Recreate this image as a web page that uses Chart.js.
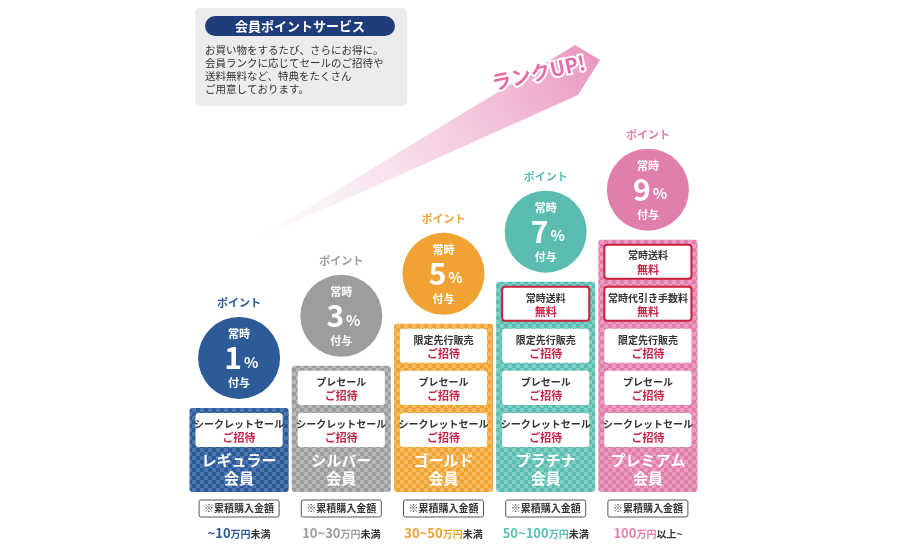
<!DOCTYPE html>
<html>
<head>
<meta charset="utf-8">
<script src="https://cdn.jsdelivr.net/npm/chart.js@4"></script>
<style>
  body { margin: 0; background: #fff; }
  #wrap { width: 900px; height: 550px; }
</style>
</head>
<body>
<div id="wrap"><canvas id="c" width="900" height="550"></canvas></div>
<script>
// data
var tiers = ['レギュラー会員', 'シルバー会員', 'ゴールド会員', 'プラチナ会員', 'プレミアム会員'];
var tierLines = [['レギュラー', '会員'], ['シルバー', '会員'], ['ゴールド', '会員'], ['プラチナ', '会員'], ['プレミアム', '会員']];
var levels = [2, 3, 4, 5, 6];
var pointRates = ['1', '3', '5', '7', '9'];
var benefits = [
    [['シークレットセール', 'ご招待']],
    [['プレセール', 'ご招待'], ['シークレットセール', 'ご招待']],
    [['限定先行販売', 'ご招待'], ['プレセール', 'ご招待'], ['シークレットセール', 'ご招待']],
    [['常時送料', '無料'], ['限定先行販売', 'ご招待'], ['プレセール', 'ご招待'], ['シークレットセール', 'ご招待']],
    [['常時送料', '無料'], ['常時代引き手数料', '無料'], ['限定先行販売', 'ご招待'], ['プレセール', 'ご招待'], ['シークレットセール', 'ご招待']]
];
var amounts = [['~10', '万円', '未満'], ['10~30', '万円', '未満'], ['30~50', '万円', '未満'], ['50~100', '万円', '未満'], ['100', '万円', '以上~']];
var colors = ['#2c5b98', '#9d9d9d', '#f0a233', '#5bbdb0', '#e07fab'];
var lightColors = ['#4c77b0', '#b8b8b8', '#f5bb62', '#80cfc4', '#eb9dc0'];

var F = '"Noto Sans CJK JP", sans-serif';

function makePattern(c1, c2) {
    var p = document.createElement('canvas');
    p.width = 8; p.height = 8;
    var g = p.getContext('2d');
    g.fillStyle = c1; g.fillRect(0, 0, 8, 8);
    g.fillStyle = c2;
    g.fillRect(0, 0, 4, 4); g.fillRect(4, 4, 4, 4);
    return document.getElementById('c').getContext('2d').createPattern(p, 'repeat');
}
var patterns = colors.map((c, i) => makePattern(c, lightColors[i]));

function rr(ctx, x, y, w, h, r) {
    ctx.beginPath();
    ctx.moveTo(x + r, y);
    ctx.arcTo(x + w, y, x + w, y + h, r);
    ctx.arcTo(x + w, y + h, x, y + h, r);
    ctx.arcTo(x, y + h, x, y, r);
    ctx.arcTo(x, y, x + w, y, r);
    ctx.closePath();
}

var deco = {
    id: 'deco',
    beforeDatasetsDraw(chart) {
        var ctx = chart.ctx;
        ctx.save();
        // arrow streak
        var g = ctx.createLinearGradient(255, 240, 600, 60);
        g.addColorStop(0, 'rgba(240,190,215,0)');
        g.addColorStop(1, 'rgba(232,140,185,0.9)');
        ctx.fillStyle = g;
        ctx.beginPath();
        ctx.moveTo(255, 240);
        ctx.lineTo(575, 45);
        ctx.lineTo(600, 60);
        ctx.lineTo(578, 95);
        ctx.closePath();
        ctx.fill();
        ctx.translate(540, 80);
        ctx.rotate(-0.22);
        ctx.font = 'bold 20px ' + F;
        ctx.textAlign = 'center';
        ctx.strokeStyle = '#fff'; ctx.lineWidth = 4;
        ctx.strokeText('ランクUP!', 0, 0);
        ctx.fillStyle = '#e86aa6';
        ctx.fillText('ランクUP!', 0, 0);
        ctx.restore();

        // info box
        ctx.save();
        ctx.fillStyle = '#ececec';
        rr(ctx, 195, 8, 212, 98, 5); ctx.fill();
        ctx.fillStyle = '#1f3d7a';
        rr(ctx, 205, 16, 190, 20, 10); ctx.fill();
        ctx.fillStyle = '#fff';
        ctx.font = 'bold 13px ' + F;
        ctx.textAlign = 'center'; ctx.textBaseline = 'middle';
        ctx.fillText('会員ポイントサービス', 300, 26);
        ctx.fillStyle = '#333';
        ctx.font = '10.5px ' + F;
        ctx.textAlign = 'left';
        ['お買い物をするたび、さらにお得に。', '会員ランクに応じてセールのご招待や', '送料無料など、特典をたくさん', 'ご用意しております。'].forEach((t, i) => {
            ctx.fillText(t, 205, 50 + i * 13);
        });
        ctx.restore();
    },
    afterDatasetsDraw(chart) {
        var ctx = chart.ctx;
        var meta = chart.getDatasetMeta(0);
        var yS = chart.scales.y;
        var unit = yS.getPixelForValue(0) - yS.getPixelForValue(1);
        ctx.save();
        ctx.textAlign = 'center'; ctx.textBaseline = 'middle';
        meta.data.forEach((bar, i) => {
            var x = bar.x, w = bar.width, top = bar.y, bottom = bar.base;
            // tier label
            ctx.fillStyle = '#fff';
            ctx.font = 'bold 15px ' + F;
            ctx.fillText(tierLines[i][0], x, bottom - 32);
            ctx.fillText(tierLines[i][1], x, bottom - 14);
            // benefit boxes
            benefits[i].forEach((b, j) => {
                var by = top + j * unit + 5;
                ctx.fillStyle = '#fff';
                rr(ctx, x - w / 2 + 6, by, w - 12, unit - 8, 3); ctx.fill();
                if (b[1] == '無料') {
                    ctx.strokeStyle = '#c8203f'; ctx.lineWidth = 2;
                    rr(ctx, x - w / 2 + 6, by, w - 12, unit - 8, 3); ctx.stroke();
                }
                ctx.fillStyle = '#333';
                ctx.font = 'bold 10px ' + F;
                ctx.fillText(b[0], x, by + 11);
                ctx.fillStyle = '#c8264b';
                ctx.font = 'bold 11px ' + F;
                ctx.fillText(b[1], x, by + 25);
            });
            // circle
            var cy = top - 50;
            ctx.fillStyle = colors[i];
            ctx.beginPath(); ctx.arc(x, cy, 41, 0, Math.PI * 2); ctx.fill();
            ctx.fillStyle = '#fff';
            ctx.font = 'bold 11px ' + F;
            ctx.fillText('常時', x, cy - 24);
            ctx.fillText('付与', x, cy + 25);
            ctx.font = 'bold 30px ' + F;
            ctx.fillText(pointRates[i], x - 6, cy);
            ctx.font = 'bold 15px ' + F;
            ctx.fillText('%', x + 12, cy + 4);
            ctx.fillStyle = colors[i];
            ctx.font = 'bold 11px ' + F;
            ctx.fillText('ポイント', x, cy - 55);
            // bottom amount
            ctx.fillStyle = '#fff';
            ctx.strokeStyle = '#555'; ctx.lineWidth = 1;
            rr(ctx, x - 40, 500, 80, 17, 2); ctx.fill(); ctx.stroke();
            ctx.fillStyle = '#333';
            ctx.font = 'bold 10px ' + F;
            ctx.fillText('※累積購入金額', x, 508.5);
            var a = amounts[i];
            ctx.font = 'bold 13px ' + F;
            var w1 = ctx.measureText(a[0]).width;
            ctx.font = 'bold 10px ' + F;
            var w2 = ctx.measureText(a[1]).width, w3 = ctx.measureText(a[2]).width;
            var sx = x - (w1 + w2 + w3) / 2;
            ctx.textAlign = 'left';
            ctx.fillStyle = colors[i];
            ctx.font = 'bold 13px ' + F;
            ctx.fillText(a[0], sx, 533);
            ctx.font = 'bold 10px ' + F;
            ctx.fillText(a[1], sx + w1, 534);
            ctx.fillStyle = '#333';
            ctx.fillText(a[2], sx + w1 + w2, 534);
            ctx.textAlign = 'center';
        });
        ctx.restore();
    }
};

new Chart(document.getElementById('c'), {
    type: 'bar',
    data: {
        labels: tiers,
        datasets: [{
            data: levels,
            backgroundColor: patterns,
            borderRadius: 3,
            borderSkipped: false,
            barPercentage: 0.97,
            categoryPercentage: 1
        }]
    },
    options: {
        responsive: false,
        animation: false,
        layout: { padding: { left: 188, right: 201, top: 0, bottom: 58 } },
        plugins: { legend: { display: false }, tooltip: { enabled: false } },
        scales: {
            x: { display: false },
            y: { display: false, min: 0, max: 11.7 }
        }
    },
    plugins: [deco]
});
</script>
</body>
</html>
